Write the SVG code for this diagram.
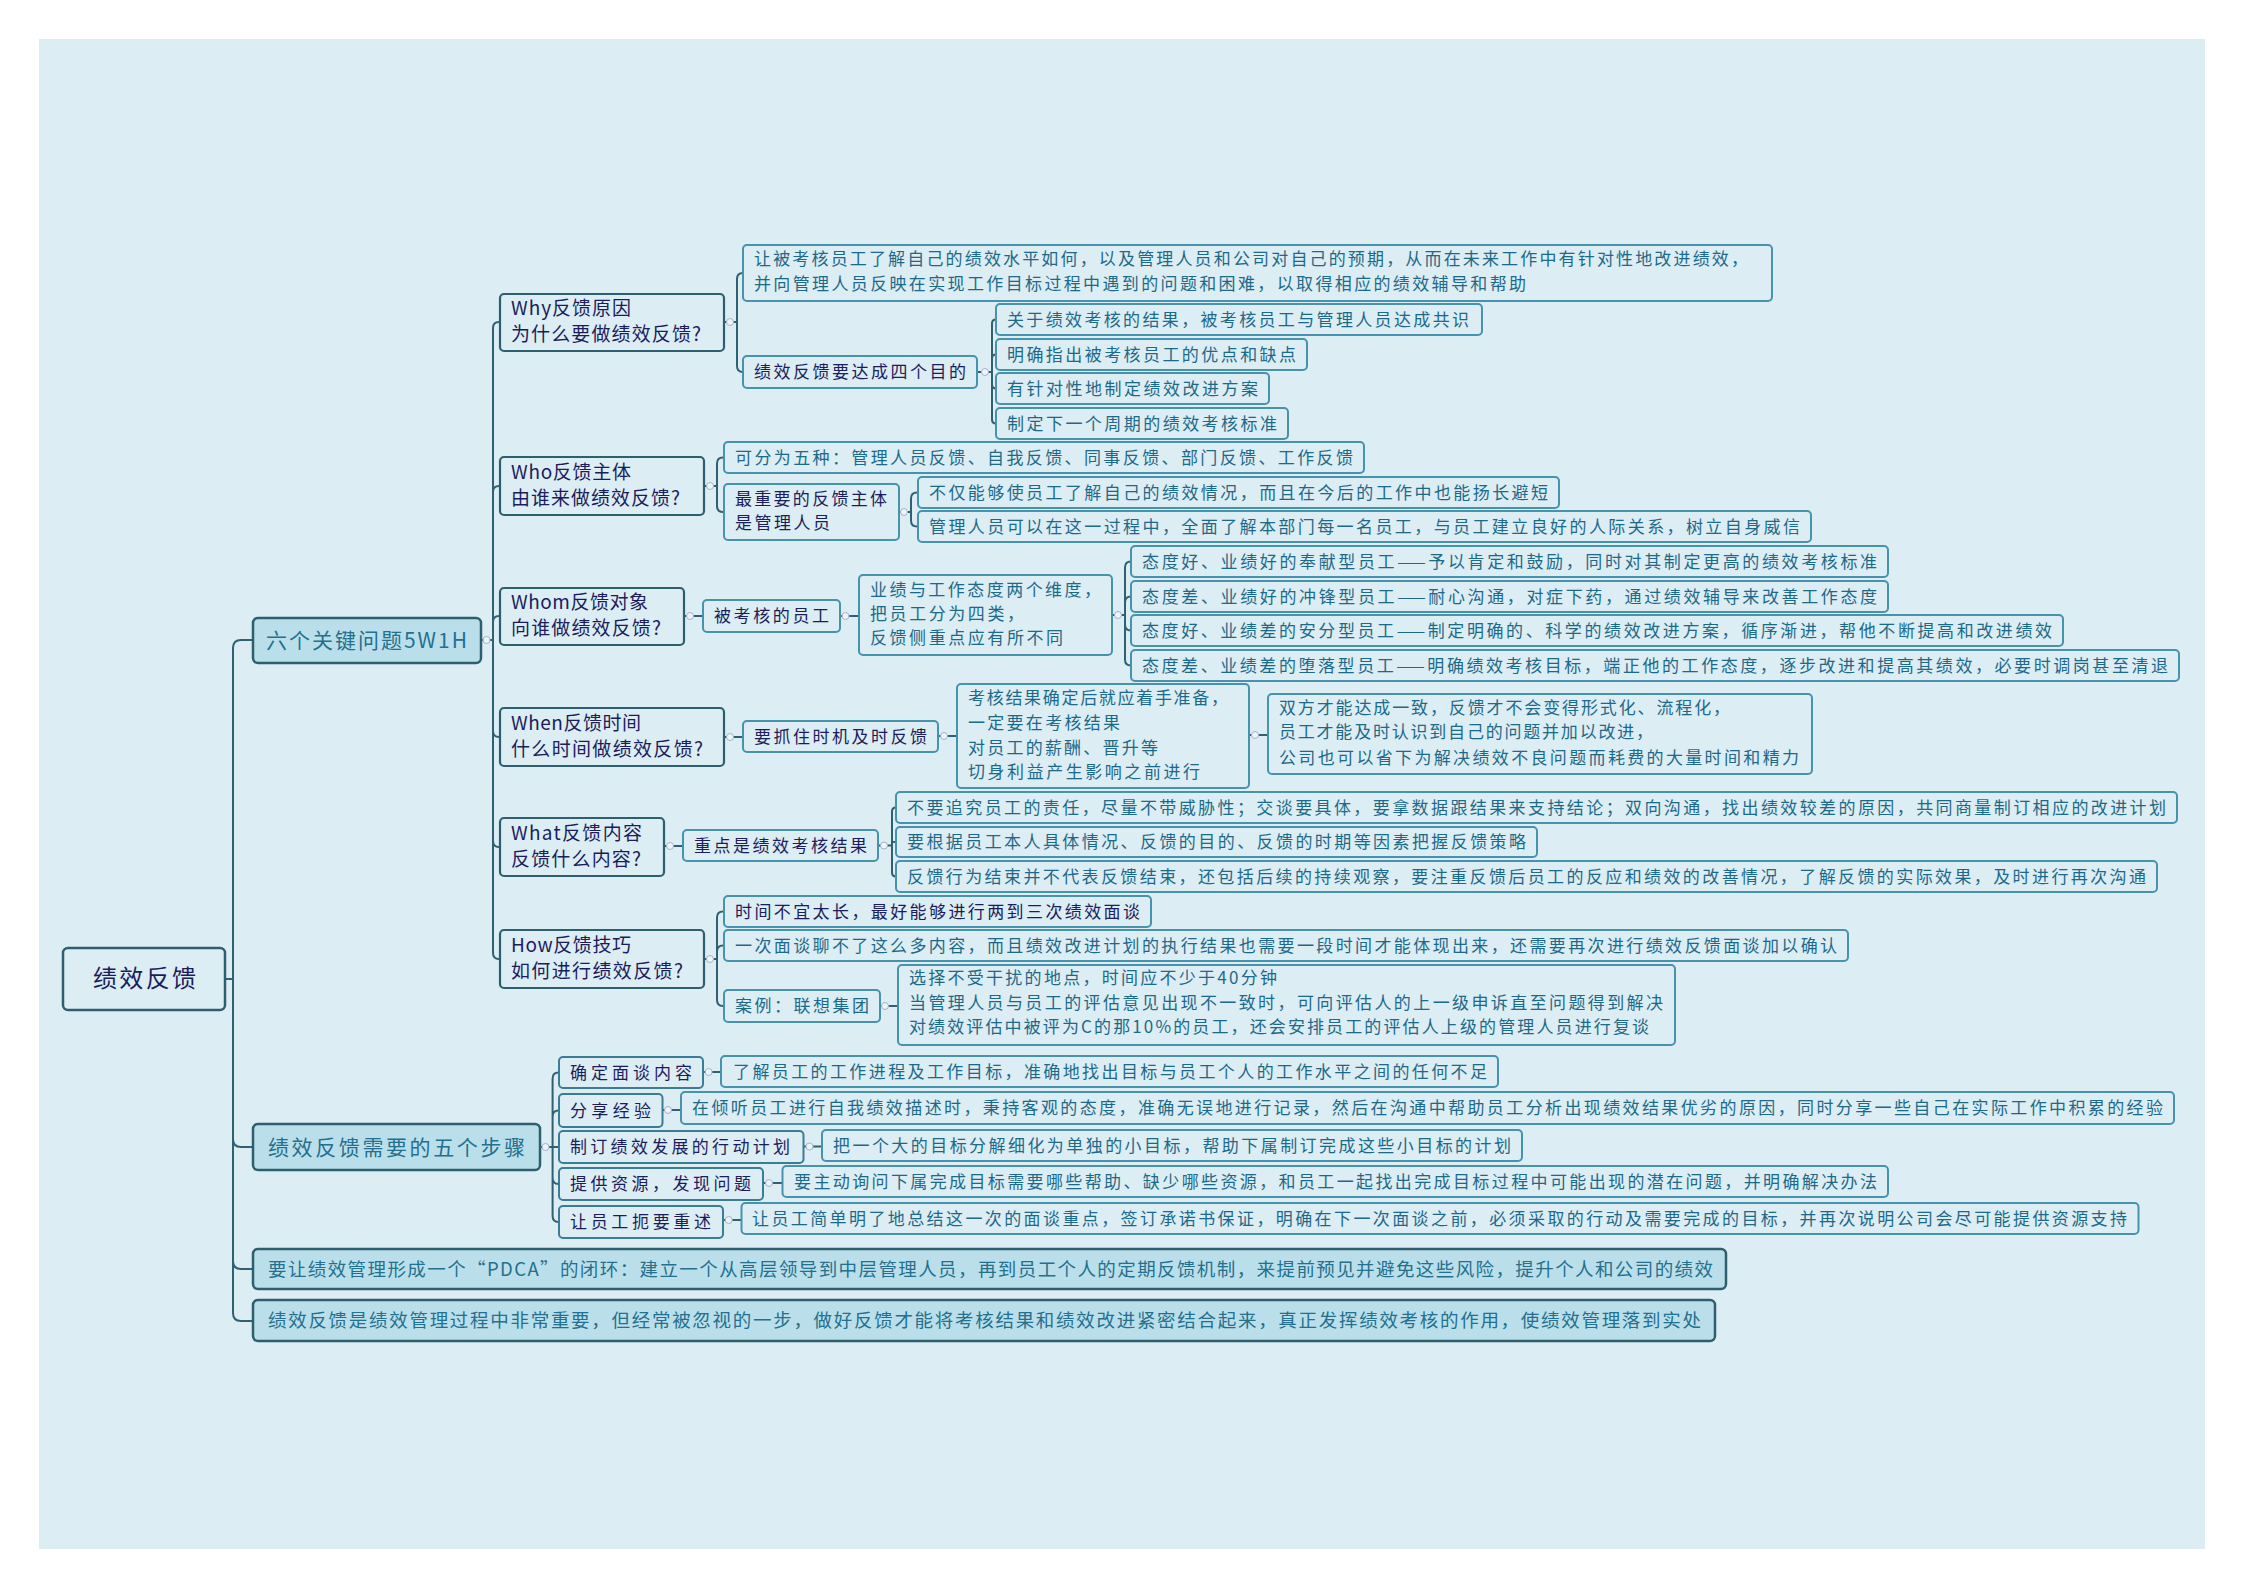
<svg xmlns="http://www.w3.org/2000/svg" width="2246" height="1587" viewBox="0 0 2246 1587">
<style>
text{font-family:"Noto Sans CJK SC","Liberation Sans",sans-serif;}
.n0{fill:#dcedf4;stroke:#2e5f6e;stroke-width:2.5}
.n1{fill:#badfea;stroke:#2e5f6e;stroke-width:2.5}
.n2{fill:#dcedf4;stroke:#2e5f6e;stroke-width:2.2}
.n3{fill:#dcedf4;stroke:#4793ad;stroke-width:2}
.n3k{fill:#dcedf4;stroke:#3a7d94;stroke-width:2}
.t0{font-size:24px;fill:#1b1d5c}
.t1{font-size:21px;fill:#23708f}
.t1s{font-size:18.5px;fill:#23708f}
.t2{font-size:19px;fill:#1b1d5c}
.t3{font-size:17px;fill:#1c6a8a}
.t3k{font-size:17px;fill:#1b1d5c}
.c{fill:none;stroke:#2f6173;stroke-width:2}
.dot{fill:#eef2fa;stroke:#a7b3c6;stroke-width:1}
</style>
<rect x="0" y="0" width="2246" height="1587" fill="#ffffff"/>
<rect x="39" y="39" width="2166" height="1510" fill="#dcedf4"/>

<g id="connectors">
<path class="c" d="M225,979 H233 M233,979 V648 Q233,640 241,640 H253 M233,979 V1139 Q233,1147 241,1147 H253 M233,979 V1261 Q233,1269 241,1269 H253 M233,979 V1313 Q233,1321 241,1321 H253"/>
<path class="c" d="M481,640 H493 M493,640 V328 Q493,322 499,322 H500 M493,640 V492 Q493,486 499,486 H500 M493,640 V622 Q493,616 499,616 H500 M493,640 V731 Q493,737 499,737 H500 M493,640 V841 Q493,847 499,847 H500 M493,640 V953 Q493,959 499,959 H500"/>
<path class="c" d="M724,322 H737 M737,322 V279 Q737,273 743,273 M737,322 V366 Q737,372 743,372"/>
<path class="c" d="M977,372 H992 M992,372 V323.5 Q992,319.5 996,319.5 M992,372 V358.5 Q992,354.5 996,354.5 M992,372 V384.5 Q992,388.5 996,388.5 M992,372 V419.5 Q992,423.5 996,423.5"/>
<path class="c" d="M704,486 H717 M717,486 V463.5 Q717,457.5 723,457.5 H724 M717,486 V506 Q717,512 723,512 H724"/>
<path class="c" d="M899,512 H911 M911,512 V498.5 Q911,492.5 917,492.5 H918 M911,512 V520.5 Q911,526.5 917,526.5 H918"/>
<path class="c" d="M684,616 H703 M840,616 H859"/>
<path class="c" d="M1112,615 H1125 M1125,615 V567.5 Q1125,561.5 1131,561.5 M1125,615 V602.5 Q1125,596.5 1131,596.5 M1125,615 V624.5 Q1125,630.5 1131,630.5 M1125,615 V659.5 Q1125,665.5 1131,665.5"/>
<path class="c" d="M724,737 H743 M938,736 H957 M1249,735 H1268"/>
<path class="c" d="M664,846 H683 M878,845.5 H892 M896,807.5 Q892,807.5 892,811.5 V872.5 Q892,876.5 896,876.5 M892,842 H896"/>
<path class="c" d="M704,959 H717 M717,959 V917.5 Q717,911.5 723,911.5 H724 M717,959 V951.5 Q717,945.5 723,945.5 H724 M717,959 V1000 Q717,1006 723,1006 H724 M880,1006 H898"/>
<path class="c" d="M540,1147 H552.6 M552.6,1147 V1078.5 Q552.6,1072.5 558.6,1072.5 H559 M552.6,1147 V1116.5 Q552.6,1110.5 558.6,1110.5 H559 M552.6,1147 H559 M552.6,1147 V1178 Q552.6,1184 558.6,1184 H559 M552.6,1147 V1216 Q552.6,1222 558.6,1222 H559"/>
<path class="c" d="M703,1072 H721 M662.5,1110 H681 M803.5,1146.5 H822 M763,1183 H782.5 M723,1220 H741.5"/>
<circle class="dot" cx="486.5" cy="640" r="3.5"/>
<circle class="dot" cx="730" cy="322" r="3.5"/>
<circle class="dot" cx="985" cy="372" r="3.5"/>
<circle class="dot" cx="710" cy="486" r="3.5"/>
<circle class="dot" cx="904" cy="512" r="3.5"/>
<circle class="dot" cx="690" cy="616" r="3.5"/>
<circle class="dot" cx="845.5" cy="616" r="3.5"/>
<circle class="dot" cx="1118" cy="615" r="3.5"/>
<circle class="dot" cx="730" cy="737" r="3.5"/>
<circle class="dot" cx="944" cy="736" r="3.5"/>
<circle class="dot" cx="1255" cy="735" r="3.5"/>
<circle class="dot" cx="670" cy="846" r="3.5"/>
<circle class="dot" cx="884" cy="845.5" r="3.5"/>
<circle class="dot" cx="710" cy="959" r="3.5"/>
<circle class="dot" cx="885" cy="1006" r="3.5"/>
<circle class="dot" cx="545.5" cy="1147" r="3.5"/>
<circle class="dot" cx="708.6" cy="1072" r="3.5"/>
<circle class="dot" cx="668" cy="1110" r="3.5"/>
<circle class="dot" cx="809.5" cy="1146.5" r="3.5"/>
<circle class="dot" cx="769" cy="1183" r="3.5"/>
<circle class="dot" cx="728.7" cy="1220" r="3.5"/>
</g>

<g id="root"><rect class="n0" x="63" y="948" width="162" height="62" rx="5"/><text class="t0" x="93" y="987" textLength="103" lengthAdjust="spacing">绩效反馈</text></g>

<g id="n-5w1h"><rect class="n1" x="253" y="618" width="228" height="45" rx="5"/><text class="t1" x="266" y="648" textLength="201" lengthAdjust="spacing">六个关键问题5W1H</text></g>
<g id="n-steps"><rect class="n1" x="253" y="1124" width="287" height="46" rx="5"/><text class="t1" x="268" y="1155" textLength="257" lengthAdjust="spacing">绩效反馈需要的五个步骤</text></g>
<g id="n-pdca"><rect class="n1" x="253" y="1249" width="1473" height="40" rx="5"/><text class="t1s" x="268" y="1276" textLength="1445" lengthAdjust="spacing">要让绩效管理形成一个“PDCA”的闭环：建立一个从高层领导到中层管理人员，再到员工个人的定期反馈机制，来提前预见并避免这些风险，提升个人和公司的绩效</text></g>
<g id="n-summary"><rect class="n1" x="253" y="1300" width="1462" height="41" rx="5"/><text class="t1s" x="268" y="1327" textLength="1433" lengthAdjust="spacing">绩效反馈是绩效管理过程中非常重要，但经常被忽视的一步，做好反馈才能将考核结果和绩效改进紧密结合起来，真正发挥绩效考核的作用，使绩效管理落到实处</text></g>

<g id="n-why"><rect class="n2" x="500" y="294" width="224" height="57" rx="4"/><text class="t2" x="511" y="315" textLength="120" lengthAdjust="spacing">Why反馈原因</text><text class="t2" x="511" y="341" textLength="190" lengthAdjust="spacing">为什么要做绩效反馈?</text></g>
<g id="n-who"><rect class="n2" x="500" y="457" width="204" height="58" rx="4"/><text class="t2" x="511" y="478.5" textLength="120" lengthAdjust="spacing">Who反馈主体</text><text class="t2" x="511" y="504.5" textLength="169" lengthAdjust="spacing">由谁来做绩效反馈?</text></g>
<g id="n-whom"><rect class="n2" x="500" y="588" width="184" height="57" rx="4"/><text class="t2" x="511" y="609" textLength="137" lengthAdjust="spacing">Whom反馈对象</text><text class="t2" x="511" y="635" textLength="150" lengthAdjust="spacing">向谁做绩效反馈?</text></g>
<g id="n-when"><rect class="n2" x="500" y="708" width="224" height="58" rx="4"/><text class="t2" x="511" y="729.5" textLength="130" lengthAdjust="spacing">When反馈时间</text><text class="t2" x="511" y="755.5" textLength="192" lengthAdjust="spacing">什么时间做绩效反馈?</text></g>
<g id="n-what"><rect class="n2" x="500" y="818" width="164" height="58" rx="4"/><text class="t2" x="511" y="839.5" textLength="131" lengthAdjust="spacing">What反馈内容</text><text class="t2" x="511" y="865.5" textLength="130" lengthAdjust="spacing">反馈什么内容?</text></g>
<g id="n-how"><rect class="n2" x="500" y="930" width="204" height="58" rx="4"/><text class="t2" x="511" y="951.5" textLength="120" lengthAdjust="spacing">How反馈技巧</text><text class="t2" x="511" y="977.5" textLength="172" lengthAdjust="spacing">如何进行绩效反馈?</text></g>

<g id="n-why-1"><rect class="n3" x="743" y="245" width="1029" height="56" rx="4"/><text class="t3" x="754" y="265" textLength="994" lengthAdjust="spacing">让被考核员工了解自己的绩效水平如何，以及管理人员和公司对自己的预期，从而在未来工作中有针对性地改进绩效，</text><text class="t3" x="754" y="290" textLength="772" lengthAdjust="spacing">并向管理人员反映在实现工作目标过程中遇到的问题和困难，以取得相应的绩效辅导和帮助</text></g>
<g id="n-why-2"><rect class="n3" x="743" y="356" width="234" height="32" rx="4"/><text class="t3k" x="754" y="378" textLength="212" lengthAdjust="spacing">绩效反馈要达成四个目的</text></g>
<g id="n-p1"><rect class="n3" x="996" y="304" width="486" height="31" rx="4"/><text class="t3" x="1007" y="325.5" textLength="462" lengthAdjust="spacing">关于绩效考核的结果，被考核员工与管理人员达成共识</text></g>
<g id="n-p2"><rect class="n3" x="996" y="339" width="311" height="31" rx="4"/><text class="t3" x="1007" y="360.5" textLength="289" lengthAdjust="spacing">明确指出被考核员工的优点和缺点</text></g>
<g id="n-p3"><rect class="n3" x="996" y="373" width="273" height="31" rx="4"/><text class="t3" x="1007" y="394.5" textLength="251" lengthAdjust="spacing">有针对性地制定绩效改进方案</text></g>
<g id="n-p4"><rect class="n3" x="996" y="408" width="292" height="31" rx="4"/><text class="t3" x="1007" y="429.5" textLength="270" lengthAdjust="spacing">制定下一个周期的绩效考核标准</text></g>

<g id="n-who-1"><rect class="n3" x="724" y="442" width="640" height="31" rx="4"/><text class="t3" x="735" y="463.5" textLength="618" lengthAdjust="spacing">可分为五种：管理人员反馈、自我反馈、同事反馈、部门反馈、工作反馈</text></g>
<g id="n-who-2"><rect class="n3" x="724" y="484" width="175" height="56" rx="4"/><text class="t3k" x="735" y="505" textLength="152" lengthAdjust="spacing">最重要的反馈主体</text><text class="t3k" x="735" y="529" textLength="95" lengthAdjust="spacing">是管理人员</text></g>
<g id="n-who-2a"><rect class="n3" x="918" y="477" width="641" height="31" rx="4"/><text class="t3" x="929" y="498.5" textLength="619" lengthAdjust="spacing">不仅能够使员工了解自己的绩效情况，而且在今后的工作中也能扬长避短</text></g>
<g id="n-who-2b"><rect class="n3" x="918" y="511" width="893" height="31" rx="4"/><text class="t3" x="929" y="532.5" textLength="871" lengthAdjust="spacing">管理人员可以在这一过程中，全面了解本部门每一名员工，与员工建立良好的人际关系，树立自身威信</text></g>

<g id="n-whom-1"><rect class="n3" x="703" y="600" width="137" height="32" rx="4"/><text class="t3k" x="714" y="622" textLength="115" lengthAdjust="spacing">被考核的员工</text></g>
<g id="n-whom-2"><rect class="n3" x="859" y="575" width="253" height="80" rx="4"/><text class="t3" x="870" y="596" textLength="231" lengthAdjust="spacing">业绩与工作态度两个维度，</text><text class="t3" x="870" y="620" textLength="154" lengthAdjust="spacing">把员工分为四类，</text><text class="t3" x="870" y="644" textLength="193" lengthAdjust="spacing">反馈侧重点应有所不同</text></g>
<g id="n-type1"><rect class="n3" x="1131" y="546" width="757" height="31" rx="4"/><text class="t3" x="1142" y="567.5" textLength="735" lengthAdjust="spacing">态度好、业绩好的奉献型员工——予以肯定和鼓励，同时对其制定更高的绩效考核标准</text></g>
<g id="n-type2"><rect class="n3" x="1131" y="581" width="757" height="31" rx="4"/><text class="t3" x="1142" y="602.5" textLength="735" lengthAdjust="spacing">态度差、业绩好的冲锋型员工——耐心沟通，对症下药，通过绩效辅导来改善工作态度</text></g>
<g id="n-type3"><rect class="n3" x="1131" y="615" width="932" height="31" rx="4"/><text class="t3" x="1142" y="636.5" textLength="910" lengthAdjust="spacing">态度好、业绩差的安分型员工——制定明确的、科学的绩效改进方案，循序渐进，帮他不断提高和改进绩效</text></g>
<g id="n-type4"><rect class="n3" x="1131" y="650" width="1048" height="31" rx="4"/><text class="t3" x="1142" y="671.5" textLength="1026" lengthAdjust="spacing">态度差、业绩差的堕落型员工——明确绩效考核目标，端正他的工作态度，逐步改进和提高其绩效，必要时调岗甚至清退</text></g>

<g id="n-when-1"><rect class="n3" x="743" y="721" width="195" height="31" rx="4"/><text class="t3k" x="754" y="742.5" textLength="173" lengthAdjust="spacing">要抓住时机及时反馈</text></g>
<g id="n-when-2"><rect class="n3" x="957" y="684" width="292" height="104" rx="4"/><text class="t3" x="968" y="704" textLength="260" lengthAdjust="spacing">考核结果确定后就应着手准备，</text><text class="t3" x="968" y="729" textLength="152" lengthAdjust="spacing">一定要在考核结果</text><text class="t3" x="968" y="754" textLength="190" lengthAdjust="spacing">对员工的薪酬、晋升等</text><text class="t3" x="968" y="778" textLength="232" lengthAdjust="spacing">切身利益产生影响之前进行</text></g>
<g id="n-when-3"><rect class="n3" x="1268" y="694" width="544" height="80" rx="4"/><text class="t3" x="1279" y="714" textLength="451" lengthAdjust="spacing">双方才能达成一致，反馈才不会变得形式化、流程化，</text><text class="t3" x="1279" y="738" textLength="374" lengthAdjust="spacing">员工才能及时认识到自己的问题并加以改进，</text><text class="t3" x="1279" y="764" textLength="520" lengthAdjust="spacing">公司也可以省下为解决绩效不良问题而耗费的大量时间和精力</text></g>

<g id="n-what-1"><rect class="n3" x="683" y="830" width="195" height="31" rx="4"/><text class="t3k" x="694" y="851.5" textLength="173" lengthAdjust="spacing">重点是绩效考核结果</text></g>
<g id="n-what-1a"><rect class="n3" x="896" y="792" width="1281" height="31" rx="4"/><text class="t3" x="907" y="813.5" textLength="1259" lengthAdjust="spacing">不要追究员工的责任，尽量不带威胁性；交谈要具体，要拿数据跟结果来支持结论；双向沟通，找出绩效较差的原因，共同商量制订相应的改进计划</text></g>
<g id="n-what-1b"><rect class="n3" x="896" y="827" width="641" height="30" rx="4"/><text class="t3" x="907" y="848" textLength="619" lengthAdjust="spacing">要根据员工本人具体情况、反馈的目的、反馈的时期等因素把握反馈策略</text></g>
<g id="n-what-1c"><rect class="n3" x="896" y="861" width="1261" height="31" rx="4"/><text class="t3" x="907" y="882.5" textLength="1239" lengthAdjust="spacing">反馈行为结束并不代表反馈结束，还包括后续的持续观察，要注重反馈后员工的反应和绩效的改善情况，了解反馈的实际效果，及时进行再次沟通</text></g>

<g id="n-how-1"><rect class="n3" x="724" y="896" width="427" height="31" rx="4"/><text class="t3k" x="735" y="917.5" textLength="405" lengthAdjust="spacing">时间不宜太长，最好能够进行两到三次绩效面谈</text></g>
<g id="n-how-2"><rect class="n3" x="724" y="930" width="1124" height="31" rx="4"/><text class="t3" x="735" y="951.5" textLength="1102" lengthAdjust="spacing">一次面谈聊不了这么多内容，而且绩效改进计划的执行结果也需要一段时间才能体现出来，还需要再次进行绩效反馈面谈加以确认</text></g>
<g id="n-how-3"><rect class="n3" x="724" y="990" width="156" height="32" rx="4"/><text class="t3" x="735" y="1012" textLength="134" lengthAdjust="spacing">案例：联想集团</text></g>
<g id="n-how-3a"><rect class="n3" x="898" y="965" width="777" height="80" rx="4"/><text class="t3" x="909" y="984" textLength="368" lengthAdjust="spacing">选择不受干扰的地点，时间应不少于40分钟</text><text class="t3" x="909" y="1009" textLength="754" lengthAdjust="spacing">当管理人员与员工的评估意见出现不一致时，可向评估人的上一级申诉直至问题得到解决</text><text class="t3" x="909" y="1033" textLength="740" lengthAdjust="spacing">对绩效评估中被评为C的那10%的员工，还会安排员工的评估人上级的管理人员进行复谈</text></g>

<g id="n-s1"><rect class="n3k" x="559" y="1057" width="144" height="31" rx="4"/><text class="t3k" x="570" y="1078.5" textLength="122" lengthAdjust="spacing">确定面谈内容</text></g>
<g id="n-s2"><rect class="n3k" x="559" y="1094" width="103.5" height="33" rx="4"/><text class="t3k" x="570" y="1116.5" textLength="81" lengthAdjust="spacing">分享经验</text></g>
<g id="n-s3"><rect class="n3k" x="559" y="1131" width="244.5" height="32" rx="4"/><text class="t3k" x="570" y="1153" textLength="220" lengthAdjust="spacing">制订绩效发展的行动计划</text></g>
<g id="n-s4"><rect class="n3k" x="559" y="1168" width="204" height="32" rx="4"/><text class="t3k" x="570" y="1190" textLength="181" lengthAdjust="spacing">提供资源，发现问题</text></g>
<g id="n-s5"><rect class="n3k" x="559" y="1206" width="164" height="32" rx="4"/><text class="t3k" x="570" y="1228" textLength="141" lengthAdjust="spacing">让员工扼要重述</text></g>

<g id="n-s1c"><rect class="n3" x="721" y="1056" width="777" height="31" rx="4"/><text class="t3" x="733" y="1077.5" textLength="754" lengthAdjust="spacing">了解员工的工作进程及工作目标，准确地找出目标与员工个人的工作水平之间的任何不足</text></g>
<g id="n-s2c"><rect class="n3" x="681" y="1092" width="1493" height="32" rx="4"/><text class="t3" x="692" y="1114" textLength="1471" lengthAdjust="spacing">在倾听员工进行自我绩效描述时，秉持客观的态度，准确无误地进行记录，然后在沟通中帮助员工分析出现绩效结果优劣的原因，同时分享一些自己在实际工作中积累的经验</text></g>
<g id="n-s3c"><rect class="n3" x="822" y="1130" width="700" height="31" rx="4"/><text class="t3" x="833" y="1151.5" textLength="678" lengthAdjust="spacing">把一个大的目标分解细化为单独的小目标，帮助下属制订完成这些小目标的计划</text></g>
<g id="n-s4c"><rect class="n3" x="782.5" y="1166" width="1105.5" height="31" rx="4"/><text class="t3" x="794" y="1187.5" textLength="1083" lengthAdjust="spacing">要主动询问下属完成目标需要哪些帮助、缺少哪些资源，和员工一起找出完成目标过程中可能出现的潜在问题，并明确解决办法</text></g>
<g id="n-s5c"><rect class="n3" x="741.5" y="1203" width="1397" height="31" rx="4"/><text class="t3" x="752" y="1224.5" textLength="1375" lengthAdjust="spacing">让员工简单明了地总结这一次的面谈重点，签订承诺书保证，明确在下一次面谈之前，必须采取的行动及需要完成的目标，并再次说明公司会尽可能提供资源支持</text></g>
</svg>
